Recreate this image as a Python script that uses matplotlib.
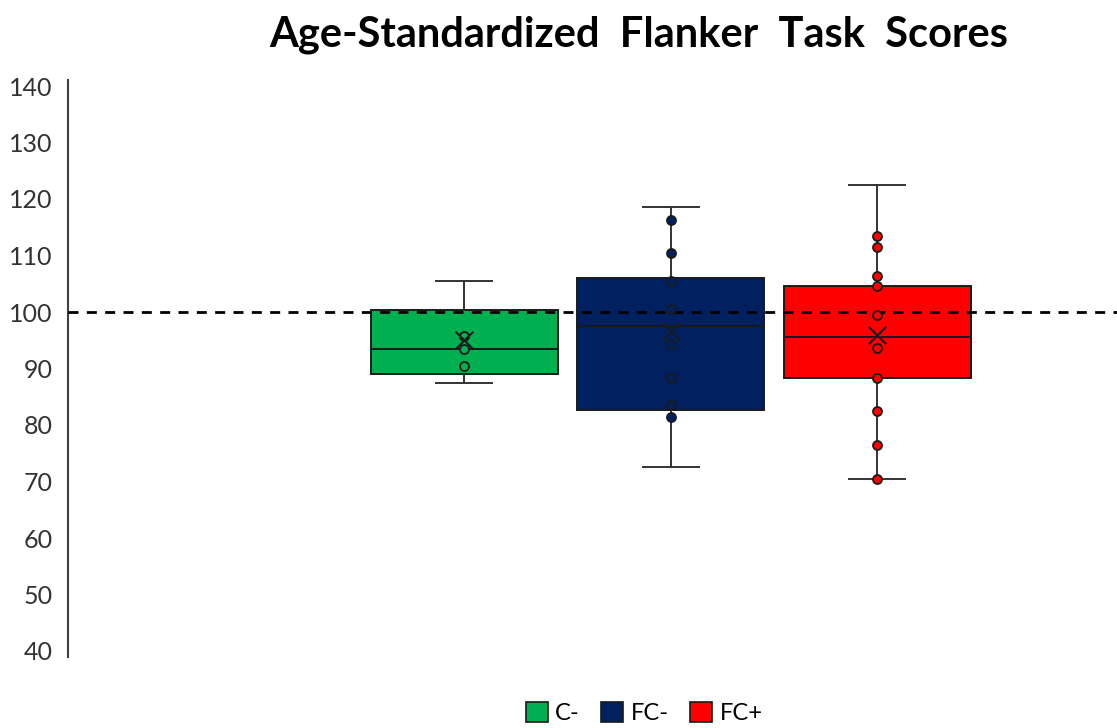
"""
Box-and-whisker chart of age-standardized Flanker task scores by group.
"""

import matplotlib.pyplot as plt
from matplotlib.patches import Patch

# Group labels and colours
categories = ['C-', 'FC-', 'FC+']
colors = ['#00B050', '#002060', '#FF0000']

# Box statistics per group
whisker_low = [87.5, 72.5, 70.5]
q1 = [89.0, 82.7, 88.4]
median = [93.5, 97.6, 95.6]
q3 = [100.4, 106.1, 104.6]
whisker_high = [105.4, 118.5, 122.4]
means = [95.1, 96.7, 95.9]

# Inner data points per group
points_c = [95.7, 93.5, 90.5]
points_fc_minus = [116.3, 110.4, 105.5, 100.6, 94.4, 88.4, 83.5, 81.4]
points_fc_plus = [113.5, 111.5, 106.4, 104.6, 99.5, 93.6, 88.4, 82.5, 76.4, 70.5]
points = [points_c, points_fc_minus, points_fc_plus]

reference_score = 100
y_ticks = list(range(40, 141, 10))

FONT = 'Lato'
EDGE = '#1a1a1a'

fig = plt.figure(figsize=(11.17, 7.28), dpi=100)
ax = fig.add_axes([68 / 1117, 1 - 651 / 728, 1 - 68 / 1117, (651 - 86) / 728])

positions = [1, 2, 3]
stats = []
for i, name in enumerate(categories):
    stats.append(dict(label=name, whislo=whisker_low[i], q1=q1[i], med=median[i],
                      q3=q3[i], whishi=whisker_high[i], fliers=[]))

bp = ax.bxp(stats, positions=positions, widths=0.906, patch_artist=True,
            showfliers=False, manage_ticks=False,
            boxprops=dict(linewidth=1.4, edgecolor=EDGE),
            medianprops=dict(color=EDGE, linewidth=1.4),
            whiskerprops=dict(color='#333333', linewidth=1.4),
            capprops=dict(color='#333333', linewidth=1.4),
            capwidths=0.271)
for box, c in zip(bp['boxes'], colors):
    box.set_facecolor(c)
    box.set_zorder(2)

# Reference line at the population mean score
ax.axhline(reference_score, color='black', linewidth=2.0, dashes=(3.6, 3.0), zorder=4)

for pos, vals, c in zip(positions, points, colors):
    ax.scatter([pos] * len(vals), vals, s=42, facecolor=c, edgecolor=EDGE,
               linewidth=1.3, zorder=5)

ax.scatter(positions, means, marker='x', s=160, color=EDGE, linewidth=1.5, zorder=6)

ax.set_xlim(-0.918, 4.162)
ax.set_ylim(40, 140)
ax.set_yticks(y_ticks)
ax.set_yticklabels([str(t) for t in y_ticks], fontfamily=FONT, fontsize=18, color='#333333')
ax.tick_params(axis='y', length=0, pad=11)
ax.set_xticks([])
for side in ['top', 'right', 'bottom']:
    ax.spines[side].set_visible(False)
ax.spines['left'].set_color('#404040')
ax.spines['left'].set_linewidth(1.5)
ax.spines['left'].set_bounds(39, 141)

fig.text(639 / 1117, 1 - 35 / 728, 'Age-Standardized  Flanker  Task  Scores',
         ha='center', va='center', fontfamily=FONT, fontweight='bold',
         fontsize=30, color='black')

handles = [Patch(facecolor=c, edgecolor=EDGE, linewidth=1.2, label=n)
           for n, c in zip(categories, colors)]
fig.legend(handles=handles, loc='center', bbox_to_anchor=(644 / 1117, 1 - 713 / 728),
           ncol=3, frameon=False, handlelength=0.95, handleheight=0.95,
           handletextpad=0.3, columnspacing=0.9,
           prop=dict(family=FONT, size=17))

fig.savefig('out.png', dpi=100)
